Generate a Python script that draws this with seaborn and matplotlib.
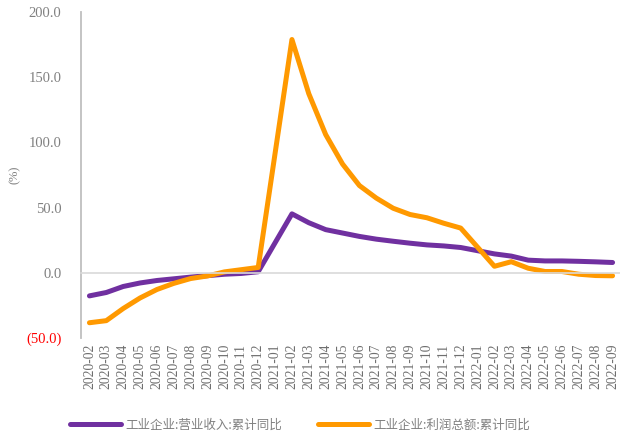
import numpy as np
import pandas as pd
import seaborn as sns
import matplotlib.pyplot as plt
from matplotlib.ticker import FixedLocator, FuncFormatter

# months 2020-02 .. 2022-09 (January has no cumulative figure)
months = pd.period_range('2020-02', '2022-09', freq='M').strftime('%Y-%m').tolist()

revenue = [-17.7, -15.1, -10.5, -7.8, -5.9, -4.6, -3.3, -2.2, -1.1, -0.5, 0.8,
           np.nan,
           45.2, 38.4, 33.1, 30.5, 27.9, 25.8, 24.2, 22.7, 21.4, 20.6, 19.4,
           np.nan,
           14.5, 12.8, 9.7, 9.1, 9.1, 8.8, 8.4, 7.9]
profit = [-38.3, -36.7, -27.4, -19.3, -12.8, -8.1, -4.4, -2.4, 0.7, 2.4, 4.1,
          np.nan,
          178.9, 137.3, 106.0, 83.4, 66.9, 57.3, 49.5, 44.7, 42.2, 38.0, 34.3,
          np.nan,
          5.0, 8.5, 3.5, 1.0, 1.0, -1.1, -2.1, -2.3]

names = ['工业企业:营业收入:累计同比', '工业企业:利润总额:累计同比']
colors = ['#7030A0', '#FF9900']

sns.set_style('white')
plt.rcParams['font.family'] = ['Noto Sans CJK SC', 'DejaVu Sans']
serif = ['Liberation Serif', 'DejaVu Serif']

df = pd.DataFrame({'pos': range(len(months)), names[0]: revenue, names[1]: profit})
long = df.melt(id_vars='pos', var_name='series', value_name='value').dropna()

fig = plt.figure(figsize=(6.2, 4.37), dpi=100)
ax = fig.add_axes([81 / 620, 1 - 338 / 437, 540 / 620, (338 - 12) / 437])

sns.lineplot(data=long, x='pos', y='value', hue='series', hue_order=names,
             palette=colors, linewidth=3.6, ax=ax, legend=False,
             solid_capstyle='round')

ax.set_xlim(-0.5, len(months) - 0.5)
ax.set_ylim(-50, 200)
ax.set_xlabel('')
ax.set_ylabel('')

# spines
for s in ['top', 'right']:
    ax.spines[s].set_visible(False)
ax.spines['left'].set_color('#bfbfbf')
ax.spines['left'].set_linewidth(1.3)
ax.spines['bottom'].set_position(('data', 0))
ax.spines['bottom'].set_color('#d9d9d9')
ax.spines['bottom'].set_linewidth(1.2)

# y axis
ax.set_yticks(np.arange(-50, 201, 50))
ax.yaxis.set_major_formatter(FuncFormatter(
    lambda v, p: f'({abs(v):.1f})' if v < 0 else f'{v:.1f}'))
ax.tick_params(axis='y', direction='in', length=4, color='#bfbfbf', pad=14,
               labelsize=10.5, labelcolor='#808080')
for lab in ax.get_yticklabels():
    lab.set_family(serif)
    if lab.get_text().startswith('('):
        lab.set_color('#ff0000')

# x axis: labels below the plot, tick marks on the zero line between categories
ax.set_xticks(range(len(months)))
ax.set_xticklabels(months, rotation=90, family=serif)
ax.xaxis.set_minor_locator(FixedLocator(np.arange(0.5, len(months), 1.0)))
ax.tick_params(axis='x', which='major', length=0, pad=51, labelsize=9.8,
               labelcolor='#6e6e6e')
ax.tick_params(axis='x', which='minor', direction='out', length=4,
               color='#d9d9d9', width=1)

fig.text(15 / 620, 1 - 175 / 437, '(%)', rotation=90, ha='center', va='center',
         fontsize=9, color='#808080', family=serif)

handles = [plt.Line2D([], [], color=c, lw=3.6, solid_capstyle='round') for c in colors]
leg = fig.legend(handles, names, loc='center', bbox_to_anchor=(300 / 620, 1 - 425 / 437),
                 ncol=2, frameon=False, fontsize=9, handlelength=4.1,
                 handletextpad=0.4, columnspacing=2.8)
for t in leg.get_texts():
    t.set_color('#808080')

fig.savefig('out.png', dpi=100)
